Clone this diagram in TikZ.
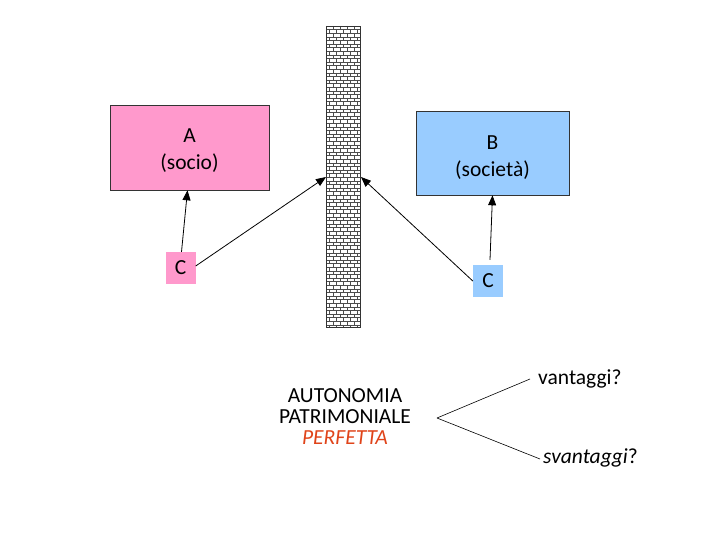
\documentclass[tikz,border=0pt]{standalone}
\usepackage{fontspec}
\setmainfont{Carlito}
\usetikzlibrary{arrows.meta}
\definecolor{pinkA}{HTML}{FF99CC}
\definecolor{blueB}{HTML}{99CCFF}
\definecolor{redP}{HTML}{E0441A}
\tikzset{
  bigbox/.style={draw=black!80, line width=0.6pt, minimum width=159pt, minimum height=85pt, inner sep=0pt},
  boxtxt/.style={font=\fontsize{21.5}{27}\selectfont, align=center, inner sep=0pt},
  cbox/.style={minimum width=30pt, minimum height=32pt, font=\fontsize{21.5}{27}\selectfont, inner sep=0pt},
  arr/.style={-{Triangle[length=10pt,width=8pt]}, line width=0.8pt},
  txt/.style={font=\fontsize{21.5}{25}\selectfont, inner sep=0pt}
}
\begin{document}
\begin{tikzpicture}[x=1pt,y=-1pt]
\useasboundingbox (0,0) rectangle (720,540);
\fill[white] (0,0) rectangle (720,540);
% wall
\fill[white] (326,26) rectangle (360,327);
\begin{scope}
\clip (326,26) rectangle (360,327);
\foreach \i in {0,...,85} {
  \pgfmathsetmacro{\yy}{26+3.6*\i}
  \draw[black!70, line width=0.5pt] (326,\yy) -- (360,\yy);
  \pgfmathsetmacro{\off}{mod(\i,2)*3.5}
  \foreach \j in {0,...,5} {
    \pgfmathsetmacro{\xx}{326+\off+7*\j}
    \draw[black!70, line width=0.5pt] (\xx,\yy) -- (\xx,\yy+3.6);
  }
}
\end{scope}
\draw[black!80, line width=0.8pt] (326,26) rectangle (360,327);
\coordinate (wl) at (326,177);
\coordinate (wr) at (361,177);
% boxes
\node[bigbox, fill=pinkA] (A) at (189.5,147.5) {};
\node[boxtxt] (At) at ([yshift=-3pt]A.center) {A\\(socio)};
\node[bigbox, fill=blueB, minimum width=153pt, minimum height=84pt] (B) at (492.5,153) {};
\node[boxtxt] (Bt) at ([yshift=-5pt]B.center) {B\\(società)};
\node[cbox, fill=pinkA] (C1) at (180.5,268) {C};
\node[cbox, fill=blueB] (C2) at (488,281) {C};
% arrows
\draw[arr] (C1.north) ++(1,0) -- ([xshift=-2pt]A.south);
\draw[arr] (C1.east) ++(0,-2) -- (wl);
\draw[arr] (C2.west) -- (wr);
\draw[arr] ([xshift=2pt]C2.north) ++(0,-5) -- (B.south);
% bottom text
\node[txt] (au) at (345,396) {AUTONOMIA};
\node[txt] (pa) at (345,417) {PATRIMONIALE};
\node[txt, text=redP] (pe) at (345,438) {\itshape PERFETTA};
\coordinate (v) at (437,418);
\node[txt, anchor=west] (va) at (538,379) {vantaggi?};
\node[txt, anchor=west] (sv) at (543,458) {\itshape svantaggi\upshape ?};
\draw[line width=0.6pt] (v) -- ([xshift=-8pt]va.west);
\draw[line width=0.6pt] (v) -- ([xshift=-3pt,yshift=-1pt]sv.west);
\end{tikzpicture}
\end{document}
